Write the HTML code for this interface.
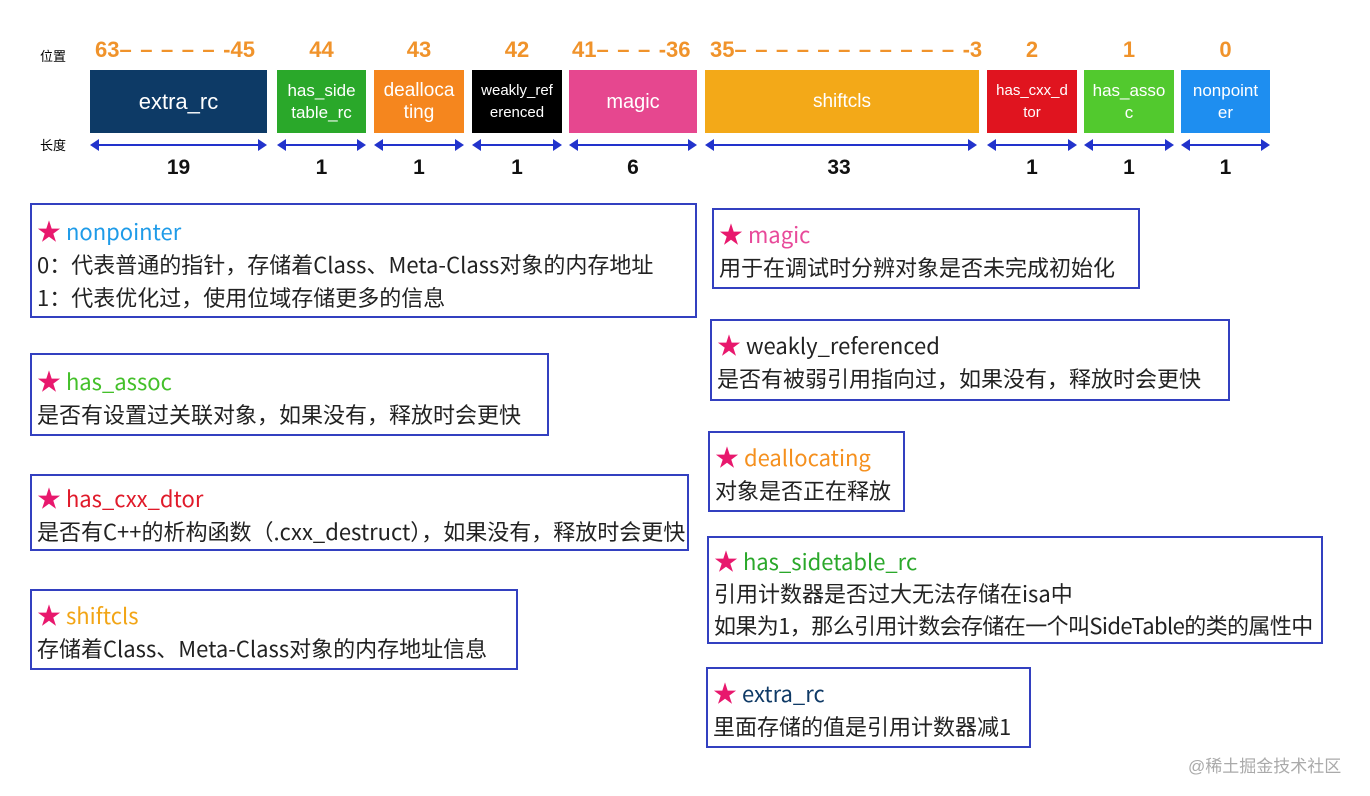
<!DOCTYPE html>
<html><head><meta charset="utf-8"><style>
body{margin:0;width:1370px;height:796px;background:#fff;position:relative;overflow:hidden;font-family:"Liberation Sans","Noto Sans CJK SC",sans-serif}
.a{position:absolute}
.bit{position:absolute;top:70px;height:63px;color:#fff;display:flex;align-items:center;justify-content:center;text-align:center;line-height:22px;font-size:17px}
.pos{position:absolute;top:37px;color:#f0932b;font-size:22px;font-weight:bold;text-align:center;white-space:nowrap}
.d{letter-spacing:8.5px;font-weight:bold}
.len{position:absolute;top:156px;font-size:21px;font-weight:bold;text-align:center;color:#111}
.arr{position:absolute;top:144px;height:2px;background:#2233cc}
.arr:before{content:"";position:absolute;left:-2px;top:-5px;border:6px solid transparent;border-right:9px solid #2233cc;border-left:0}
.arr:after{content:"";position:absolute;right:-2px;top:-5px;border:6px solid transparent;border-left:9px solid #2233cc;border-right:0}
.box{position:absolute;border:2px solid #3340c0;box-sizing:border-box;padding:8px 0 0 5px;font-family:"Noto Sans CJK SC","Liberation Sans",sans-serif;font-size:22px;line-height:33px;color:#222;white-space:nowrap}
.s{color:#e8186d;font-size:24px}
</style></head><body>
<div class="a" style="left:40px;top:46px;font-size:13px">位置</div>
<div class="a" style="left:40px;top:135px;font-size:13px">长度</div>

<div class="pos" style="left:95px;text-align:left">63<span class="d">–––––</span>-45</div>
<div class="pos" style="left:277px;width:89px">44</div>
<div class="pos" style="left:374px;width:90px">43</div>
<div class="pos" style="left:472px;width:90px">42</div>
<div class="pos" style="left:572px;text-align:left">41<span class="d">–––</span>-36</div>
<div class="pos" style="left:710px;text-align:left">35<span class="d">–––––––––––</span>-3</div>
<div class="pos" style="left:987px;width:90px">2</div>
<div class="pos" style="left:1084px;width:90px">1</div>
<div class="pos" style="left:1181px;width:89px">0</div>

<div class="bit" style="left:90px;width:177px;background:#0d3a66;font-size:22px">extra_rc</div>
<div class="bit" style="left:277px;width:89px;background:#2aa82a">has_side<br>table_rc</div>
<div class="bit" style="left:374px;width:90px;background:#f5861e;font-size:19px">dealloca<br>ting</div>
<div class="bit" style="left:472px;width:90px;background:#000;font-size:15px">weakly_ref<br>erenced</div>
<div class="bit" style="left:569px;width:128px;background:#e6478f;font-size:20px">magic</div>
<div class="bit" style="left:705px;width:274px;background:#f3a918;font-size:19px">shiftcls</div>
<div class="bit" style="left:987px;width:90px;background:#e0141f;font-size:15px">has_cxx_d<br>tor</div>
<div class="bit" style="left:1084px;width:90px;background:#52c92e">has_asso<br>c</div>
<div class="bit" style="left:1181px;width:89px;background:#1e8ef0">nonpoint<br>er</div>

<div class="arr" style="left:92px;width:173px"></div>
<div class="arr" style="left:279px;width:85px"></div>
<div class="arr" style="left:376px;width:86px"></div>
<div class="arr" style="left:474px;width:86px"></div>
<div class="arr" style="left:571px;width:124px"></div>
<div class="arr" style="left:707px;width:268px"></div>
<div class="arr" style="left:989px;width:86px"></div>
<div class="arr" style="left:1086px;width:86px"></div>
<div class="arr" style="left:1183px;width:85px"></div>

<div class="len" style="left:90px;width:177px">19</div>
<div class="len" style="left:277px;width:89px">1</div>
<div class="len" style="left:374px;width:90px">1</div>
<div class="len" style="left:472px;width:90px">1</div>
<div class="len" style="left:569px;width:128px">6</div>
<div class="len" style="left:705px;width:268px">33</div>
<div class="len" style="left:987px;width:90px">1</div>
<div class="len" style="left:1084px;width:90px">1</div>
<div class="len" style="left:1181px;width:89px">1</div>

<div class="box" style="left:30px;top:203px;width:667px;height:115px"><span class="s">★</span> <span style="color:#1e9be8">nonpointer</span><br>0：代表普通的指针，存储着Class、Meta-Class对象的内存地址<br>1：代表优化过，使用位域存储更多的信息</div>
<div class="box" style="left:30px;top:353px;width:519px;height:83px"><span class="s">★</span> <span style="color:#44c02a">has_assoc</span><br>是否有设置过关联对象，如果没有，释放时会更快</div>
<div class="box" style="left:30px;top:474px;width:659px;height:77px;padding-top:4px"><span class="s">★</span> <span style="color:#e01a2a">has_cxx_dtor</span><br>是否有C++的析构函数（.cxx_destruct），如果没有，释放时会更快</div>
<div class="box" style="left:30px;top:589px;width:488px;height:81px;padding-top:6px"><span class="s">★</span> <span style="color:#f2a516">shiftcls</span><br>存储着Class、Meta-Class对象的内存地址信息</div>

<div class="box" style="left:712px;top:208px;width:428px;height:81px;padding-top:6px"><span class="s">★</span> <span style="color:#e84a9a">magic</span><br>用于在调试时分辨对象是否未完成初始化</div>
<div class="box" style="left:710px;top:319px;width:520px;height:82px;padding-top:6px"><span class="s">★</span> <span>weakly_referenced</span><br>是否有被弱引用指向过，如果没有，释放时会更快</div>
<div class="box" style="left:708px;top:431px;width:197px;height:81px;padding-top:6px"><span class="s">★</span> <span style="color:#f5901e">deallocating</span><br>对象是否正在释放</div>
<div class="box" style="left:707px;top:536px;width:616px;height:108px;padding-top:6px;line-height:32px"><span class="s">★</span> <span style="color:#2aa82a">has_sidetable_rc</span><br>引用计数器是否过大无法存储在isa中<br><span style="letter-spacing:-0.6px">如果为1，那么引用计数会存储在一个叫SideTable的类的属性中</span></div>
<div class="box" style="left:706px;top:667px;width:325px;height:81px;padding-top:6px"><span class="s">★</span> <span style="color:#0f3a66">extra_rc</span><br>里面存储的值是引用计数器减1</div>

<div class="a" style="left:1188px;top:752px;font-size:17px;color:#aaa">@稀土掘金技术社区</div>
</body></html>
